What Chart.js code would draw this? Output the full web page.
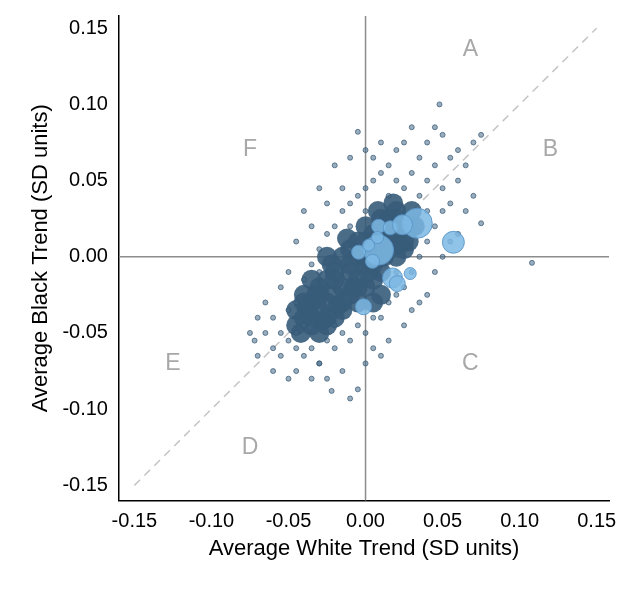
<!DOCTYPE html>
<html>
<head>
<meta charset="utf-8">
<script src="https://cdn.jsdelivr.net/npm/chart.js@4/dist/chart.umd.min.js"></script>
<style>
  body { margin: 0; background: #fff; }
  #wrap { width: 625px; height: 590px; }
</style>
</head>
<body>
<div id="wrap"><canvas id="chart" width="625" height="590"></canvas></div>
<script>
// dense middle of the cloud
const coreX = [-0.04,-0.035,-0.03,-0.03,-0.025,-0.025,-0.02,-0.02,-0.02,-0.015,-0.015,-0.015,-0.01,-0.01,-0.01,-0.005,-0.005,-0.005,0.0,0.0,0.0,0.005,0.005,0.005,0.01,0.01,0.015,0.015,0.02,0.02,0.025,0.03,-0.045,-0.035,0.01,-0.025,0.0,0.02,-0.03,0.005,-0.04,0.025,0.01,-0.038,-0.028,-0.018,-0.008,0.002,0.012,0.022,0.032,-0.012,-0.022,0.018,0.028,-0.032,-0.042,0.008,
  -0.045,-0.035,-0.025,-0.015,-0.005,0.005,0.015,0.025,-0.04,-0.03,-0.02,-0.01,0.0,0.01,0.02,0.03,-0.035,-0.005,0.015,-0.025];
const coreY = [-0.04,-0.03,-0.035,-0.02,-0.03,-0.015,-0.025,-0.01,-0.04,-0.02,0.0,-0.035,-0.01,-0.025,0.005,-0.015,0.0,-0.03,-0.005,0.01,-0.02,0.0,-0.015,0.015,0.005,-0.01,0.01,0.025,0.015,0.0,0.02,0.03,-0.045,-0.045,0.025,0.0,0.02,0.03,-0.05,-0.03,-0.025,0.005,-0.025,-0.035,-0.042,-0.032,-0.02,-0.01,0.0,0.008,0.02,0.012,-0.005,0.035,0.01,-0.025,-0.05,0.03,
  -0.035,-0.04,-0.04,-0.03,-0.02,-0.005,0.005,0.01,-0.03,-0.025,-0.015,-0.005,0.0,0.015,0.025,0.02,-0.015,0.01,0.02,-0.045];

// scattered individual points
const smallX = [-0.06,-0.055,-0.05,-0.05,-0.045,-0.045,-0.04,-0.04,-0.035,-0.035,-0.03,-0.03,-0.025,-0.025,-0.02,-0.02,-0.015,-0.015,-0.01,-0.01,-0.005,-0.005,0.0,0.0,0.005,0.005,0.01,0.01,0.015,0.015,0.02,0.02,0.025,0.025,0.03,0.03,0.035,0.035,0.04,0.04,0.045,0.045,0.05,0.05,0.055,0.06,0.065,0.065,0.07,0.075,0.075,0.108,0.048,0.03,-0.005,0.02,0.04,0.05,0.055,-0.02,-0.01,0.0,0.01,-0.03,-0.04,-0.045,-0.05,-0.055,-0.06,-0.065,-0.07,-0.072,-0.075,-0.06,-0.05,-0.045,-0.035,-0.03,-0.022,-0.01,-0.005,-0.015,0.0,0.01,0.015,0.025,0.03,0.04,0.045,0.05,0.055,0.06,-0.065,-0.07,-0.055,-0.025,0.005,0.035,-0.025,-0.035,0.025,0.035,-0.015,0.005,0.045,0.06,0.07,-0.04,-0.045,0.015,0.02,-0.01,0.0,0.03,-0.02,0.04,0.035,-0.03,0.01];
const smallY = [-0.04,-0.05,-0.035,-0.055,-0.06,-0.03,-0.065,-0.015,-0.06,-0.005,-0.07,0.005,-0.055,0.015,-0.06,0.02,-0.05,0.03,-0.055,0.035,-0.045,0.04,-0.05,0.045,-0.04,0.05,-0.04,0.055,-0.03,0.06,-0.025,0.05,-0.02,0.045,-0.01,0.055,0.0,0.04,0.01,0.05,0.02,0.06,0.03,0.045,0.035,0.05,0.06,0.03,0.04,0.022,0.08,-0.004,0.1,0.085,0.082,0.07,0.075,0.08,0.065,0.06,0.065,0.07,0.075,0.045,0.03,0.01,-0.01,-0.02,-0.06,-0.05,-0.065,-0.055,-0.05,-0.075,-0.08,-0.075,-0.08,-0.07,-0.088,-0.093,-0.087,-0.075,-0.07,-0.065,-0.055,-0.045,-0.035,-0.025,-0.01,0.0,0.01,0.015,-0.03,-0.04,-0.065,-0.08,-0.06,-0.03,0.035,0.02,0.075,0.065,0.045,0.065,0.085,0.07,0.075,-0.045,-0.05,0.04,-0.01,0.02,0.03,0.015,-0.045,0.03,0.02,-0.01,-0.005];

// large light-blue bubbles
const bigX = [0.0336,0.057,0.0085,0.0045,-0.0045,0.0085,0.016,0.024,0.0078,0.002,0.0175,0.0206,0.029,-0.0013];
const bigY = [0.022,0.0095,0.0044,-0.003,0.003,0.02,0.019,0.021,0.0126,0.0076,-0.0139,-0.0176,-0.011,-0.0328];
const bigR = [15,11,15,7,7,7,7,10,6,6,10,8,6,8];

const tickVals = [-0.15,-0.10,-0.05,0.00,0.05,0.10,0.15];
const regionLabels = ['A','B','C','D','E','F'];
const regionX = [0.068,0.12,0.068,-0.075,-0.125,-0.075];
const regionY = [0.136,0.07,-0.07,-0.125,-0.07,0.07];

const pts = (xs, ys) => xs.map((x, i) => ({x: x, y: ys[i]}));

const refLines = {
  id: 'refLines',
  beforeDatasetsDraw(c) {
    const {ctx, scales: {x, y}, chartArea: a} = c;
    ctx.save();
    ctx.strokeStyle = '#8c8c8c';
    ctx.lineWidth = 1.5;
    ctx.beginPath();
    ctx.moveTo(x.getPixelForValue(0), a.top); ctx.lineTo(x.getPixelForValue(0), a.bottom);
    ctx.moveTo(a.left, y.getPixelForValue(0)); ctx.lineTo(a.right, y.getPixelForValue(0));
    ctx.stroke();
    ctx.strokeStyle = '#c4c4c4';
    ctx.setLineDash([8, 6]);
    ctx.beginPath();
    ctx.moveTo(x.getPixelForValue(-0.15), y.getPixelForValue(-0.15));
    ctx.lineTo(x.getPixelForValue(0.15), y.getPixelForValue(0.15));
    ctx.stroke();
    ctx.setLineDash([]);
    ctx.fillStyle = '#a8a8a8';
    ctx.font = '23px "Liberation Sans", Arial, sans-serif';
    ctx.textAlign = 'center';
    ctx.textBaseline = 'middle';
    regionLabels.forEach((t, i) => ctx.fillText(t, x.getPixelForValue(regionX[i]), y.getPixelForValue(regionY[i])));
    ctx.restore();
  }
};

const axisFont = {family: '"Liberation Sans", Arial, sans-serif', size: 20};
const fix = axis => { axis.ticks = tickVals.map(v => ({value: v})); };

new Chart(document.querySelector('#chart').getContext('2d'), {
  type: 'bubble',
  data: {
    datasets: [
      {data: bigX.map((x, i) => ({x: x, y: bigY[i], r: bigR[i]})), backgroundColor: 'rgba(125,185,228,0.85)', borderColor: 'rgba(90,150,200,0.9)', borderWidth: 1},
      {data: pts(smallX, smallY).map(p => ({...p, r: 2.5})), backgroundColor: 'rgba(70,105,135,0.55)', borderColor: 'rgba(50,85,115,0.7)', borderWidth: 1},
      {data: pts(coreX, coreY).map(p => ({...p, r: 10})), backgroundColor: 'rgba(55,92,122,0.9)', borderWidth: 0}
    ]
  },
  options: {
    responsive: false,
    animation: false,
    layout: {padding: {top: 0, right: 14, bottom: 24, left: 24}},
    plugins: {legend: {display: false}, tooltip: {enabled: false}},
    scales: {
      x: {
        type: 'linear', min: -0.16, max: 0.158,
        afterBuildTicks: fix,
        grid: {display: false, drawTicks: true, tickLength: 7, tickColor: '#000'},
        border: {color: '#000', width: 1.5},
        ticks: {color: '#000', font: axisFont, maxRotation: 0, padding: 2, callback: v => v.toFixed(2)},
        title: {display: true, text: 'Average White Trend (SD units)', color: '#000', font: {...axisFont, size: 22}, padding: {top: 0}}
      },
      y: {
        type: 'linear', min: -0.16, max: 0.158,
        afterBuildTicks: fix,
        grid: {display: false, drawTicks: true, tickLength: 7, tickColor: '#000'},
        border: {color: '#000', width: 1.5},
        ticks: {color: '#000', font: axisFont, padding: 4, callback: v => v.toFixed(2)},
        title: {display: true, text: 'Average Black Trend (SD units)', color: '#000', font: {...axisFont, size: 22}, padding: {bottom: 4}}
      }
    }
  },
  plugins: [refLines]
});
</script>
</body>
</html>
